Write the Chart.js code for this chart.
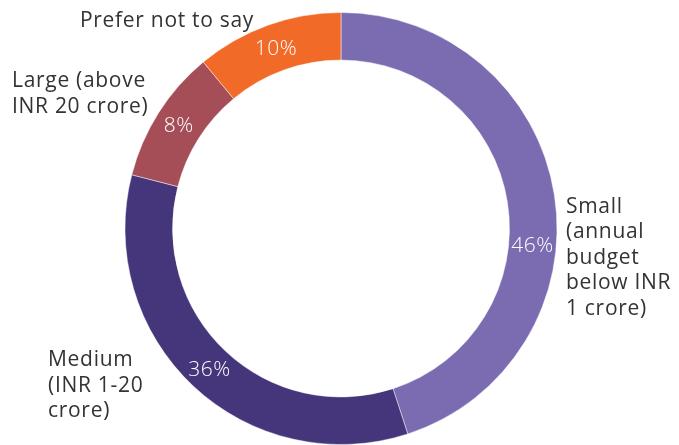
<!DOCTYPE html>
<html>
<head>
<meta charset="utf-8">
<script src="https://cdn.jsdelivr.net/npm/chart.js@4.4.1/dist/chart.umd.min.js"></script>
<style>
  html, body { margin: 0; padding: 0; background: #fff; }
  #wrap { width: 679px; height: 445px; position: relative; }
</style>
</head>
<body>
<div id="wrap"><canvas id="myChart"></canvas></div>
<script>
// Data
const categories = [
  'Small (annual budget below INR 1 crore)',
  'Medium (INR 1-20 crore)',
  'Large (above INR 20 crore)',
  'Prefer not to say'
];
// share of the ring each segment covers (measured from the arcs)
const shares = [45, 34, 10, 11];
// percentages as printed on the ring
const pctLabels = ['46%', '36%', '8%', '10%'];
const colors = ['#7b6bb0', '#45357a', '#a64e58', '#f26a27'];

// outer label lines, with where they sit
const outerLabels = [
  { lines: ['Small', '(annual', 'budget', 'below INR', '1 crore)'], x: 566, y: 205 },
  { lines: ['Medium', '(INR 1-20', 'crore)'], x: 48, y: 358.5 },
  { lines: ['Large (above', 'INR 20 crore)'], x: 12, y: 79.5 },
  { lines: ['Prefer not to say'], x: 80, y: 19.5 }
];

const FONT = '"Open Sans", "Noto Sans", sans-serif';

const ringLabels = {
  id: 'ringLabels',
  afterDatasetsDraw(chart, args, opts) {
    const ctx = chart.ctx;
    const meta = chart.getDatasetMeta(0);
    ctx.save();

    // percentages inside the ring
    ctx.fillStyle = '#ffffff';
    ctx.font = '300 21px ' + FONT;
    ctx.letterSpacing = '0.5px';
    ctx.textAlign = 'center';
    ctx.textBaseline = 'middle';
    meta.data.forEach((arc, i) => {
      const p = arc.getProps(['x', 'y', 'startAngle', 'endAngle', 'innerRadius', 'outerRadius'], true);
      const a = (p.startAngle + p.endAngle) / 2 + opts.angleShift[i] * Math.PI / 180;
      const r = (p.innerRadius + p.outerRadius) / 2;
      ctx.fillText(pctLabels[i], p.x + r * Math.cos(a), p.y + r * Math.sin(a) + 1);
    });

    // category names around the ring
    ctx.fillStyle = '#333333';
    ctx.font = '400 21px ' + FONT;
    ctx.letterSpacing = '0.7px';
    ctx.textAlign = 'left';
    ctx.textBaseline = 'alphabetic';
    outerLabels.forEach(l => {
      l.lines.forEach((t, k) => {
        ctx.fillText(t, l.x, l.y + k * 25.6 + 7.5);
      });
    });
    ctx.restore();
  }
};

const ctx = document.getElementById('myChart').getContext('2d');
const myChart = new Chart(ctx, {
  type: 'doughnut',
  data: {
    labels: categories,
    datasets: [{
      data: shares,
      backgroundColor: colors,
      borderColor: 'rgba(255,255,255,0.45)',
      borderWidth: 1,
      hoverOffset: 0
    }]
  },
  options: {
    responsive: true,
    maintainAspectRatio: false,
    animation: false,
    cutout: '78%',
    layout: { padding: { top: 12, bottom: -2, left: 3, right: 0 } },
    plugins: {
      legend: { display: false },
      tooltip: { enabled: false },
      ringLabels: { angleShift: [14, 0, 0, 0] }
    }
  },
  plugins: [ringLabels]
});
</script>
</body>
</html>
